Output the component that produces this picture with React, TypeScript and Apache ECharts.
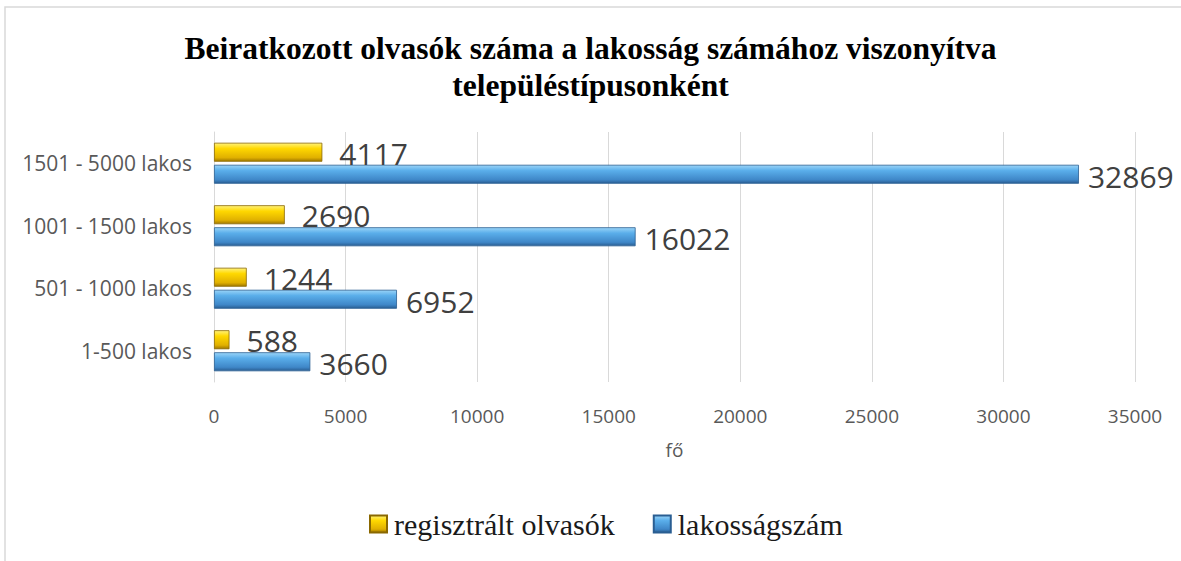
import React, { useEffect, useRef } from "react";
import * as echarts from "echarts";

const categories = ["1-500 lakos", "501 - 1000 lakos", "1001 - 1500 lakos", "1501 - 5000 lakos"];
const readers = [588, 1244, 2690, 4117];
const population = [3660, 6952, 16022, 32869];
const seriesNames = ["regisztrált olvasók", "lakosságszám"];
const titleText = "Beiratkozott olvasók száma a lakosság számához viszonyítva\ntelepüléstípusonként";
const axisName = "fő";

const yellowGrad = new echarts.graphic.LinearGradient(0, 0, 0, 1, [
  { offset: 0, color: "#FFF27A" },
  { offset: 0.3, color: "#FFD800" },
  { offset: 0.8, color: "#E0B000" },
  { offset: 1, color: "#A07800" },
]);
const blueGrad = new echarts.graphic.LinearGradient(0, 0, 0, 1, [
  { offset: 0, color: "#9AD4F8" },
  { offset: 0.3, color: "#5AAEEA" },
  { offset: 0.8, color: "#3F87C8" },
  { offset: 1, color: "#2A5E92" },
]);

export default function App() {
  const ref = useRef<HTMLDivElement>(null);
  useEffect(() => {
    document.body.style.margin = "0";
    const chart = echarts.init(ref.current!, null, { renderer: "svg" });
    const labelStyle = {
      show: true,
      position: "right" as const,
      fontSize: 30,
      color: "#404040",
      fontFamily: "Open Sans",
    };
    chart.setOption({
      animation: false,
      backgroundColor: "#ffffff",
      title: {
        text: titleText,
        left: "center",
        top: 25,
        textStyle: {
          fontFamily: "Liberation Serif",
          fontWeight: "bold",
          fontSize: 31.5,
          lineHeight: 37,
          color: "#000000",
        },
      },
      graphic: [
        {
          type: "rect",
          shape: { x: 5, y: 7, width: 1300, height: 700 },
          style: { fill: "none", stroke: "#d9d9d9", lineWidth: 1.5 },
          silent: true,
          z: -10,
        },
      ],
      legend: {
        top: 504,
        left: 364,
        itemWidth: 17,
        itemHeight: 17,
        itemGap: 38,
        icon: "rect",
        textStyle: { fontFamily: "Liberation Serif", fontSize: 30, color: "#1a1a1a", padding: [0, 0, 0, 2] },
        data: seriesNames,
      },
      grid: { left: 214, right: 46, top: 132, bottom: 179, containLabel: false },
      xAxis: {
        type: "value",
        min: 0,
        max: 35000,
        interval: 5000,
        name: axisName,
        nameLocation: "middle",
        nameGap: 58,
        nameTextStyle: { fontSize: 19, color: "#595959", fontFamily: "Open Sans" },
        axisLine: { show: false },
        axisTick: { show: false },
        axisLabel: {
          fontSize: 19,
          color: "#595959",
          fontFamily: "Open Sans",
          margin: 24,
          formatter: (v: number) => String(v),
        },
        splitLine: { lineStyle: { color: "#d9d9d9", width: 1 } },
      },
      yAxis: {
        type: "category",
        data: categories,
        axisLine: { show: true, lineStyle: { color: "#d9d9d9" } },
        axisTick: { show: false },
        axisLabel: { fontSize: 21, color: "#595959", fontFamily: "Open Sans", margin: 22 },
      },
      series: [
        {
          name: seriesNames[0],
          type: "bar",
          data: readers,
          barWidth: 19,
          barGap: "16%",
          barCategoryGap: "35%",
          itemStyle: { color: yellowGrad, borderColor: "#8a6800", borderWidth: 0.8 },
          label: { ...labelStyle, distance: 17, offset: [0, 1] },
        },
        {
          name: seriesNames[1],
          type: "bar",
          data: population,
          barWidth: 19,
          barGap: "16%",
          barCategoryGap: "35%",
          itemStyle: { color: blueGrad, borderColor: "#2a5e92", borderWidth: 0.8 },
          label: { ...labelStyle, distance: 9, offset: [0, 2] },
        },
      ],
    });
    return () => chart.dispose();
  }, []);
  return <div ref={ref} style={{ width: 1181, height: 561 }} />;
}
